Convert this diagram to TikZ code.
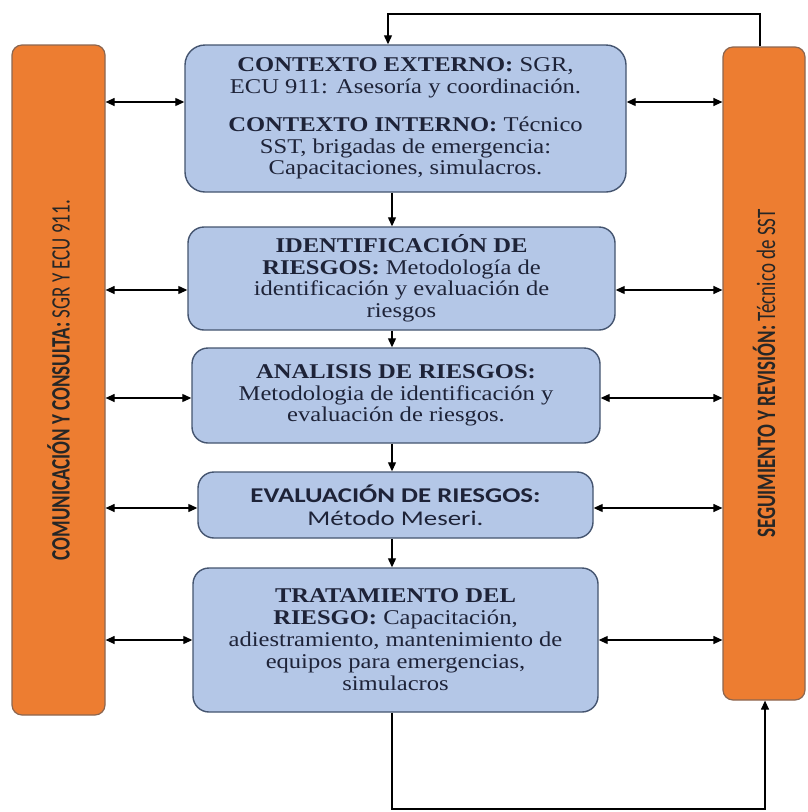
\documentclass[tikz,border=0pt]{standalone}
\usepackage{fontspec}
\setmainfont{Liberation Serif}
\newfontfamily\serifbox{Liberation Serif}[FakeStretch=1.17]
\newfontfamily\sansbox{Carlito}[FakeStretch=1.28]
\newfontfamily\barfont{Carlito}
\usetikzlibrary{arrows.meta, positioning, calc}
\definecolor{barorange}{HTML}{ED7D31}
\definecolor{barline}{HTML}{8C6650}
\definecolor{boxblue}{HTML}{B4C7E7}
\definecolor{boxline}{HTML}{44546F}
\definecolor{boxtext}{HTML}{1E2338}

\begin{document}
\begin{tikzpicture}[x=1pt, y=-1pt,
  stage/.style={draw=boxline, line width=1.4pt, fill=boxblue, rounded corners=16pt, align=center, text=boxtext,
    inner sep=0pt, font=\serifbox\fontsize{21}{21.5}\selectfont},
  sidebar/.style={draw=barline, line width=1.2pt, fill=barorange, rounded corners=10pt, inner sep=0pt,
    text=black!85, font=\barfont\fontsize{19}{19}\selectfont},
  arr/.style={-{Triangle[length=9pt, width=8pt]}, line width=1.2pt},
  dbl/.style={{Triangle[length=9pt, width=8pt]}-{Triangle[length=9pt, width=8pt]}, line width=1.2pt}]
\useasboundingbox (0,0) rectangle (807,812);
\node[sidebar, minimum width=93pt, minimum height=670pt] (lb) at (58.5,380)
  {\rotatebox{90}{\scalebox{1}[1.4]{\textbf{COMUNICACIÓN Y CONSULTA:} SGR Y ECU 911.}}};
\node[sidebar, minimum width=82pt, minimum height=653pt] (rb) at (764,373.5)
  {\rotatebox{90}{\scalebox{1}[1.4]{\textbf{SEGUIMIENTO Y REVISIÓN:} Técnico de SST}}};
\node[stage, rounded corners=20pt, minimum width=441pt, minimum height=147pt] (b1) at (405.5,118.5)
  {\textbf{CONTEXTO EXTERNO:} SGR,\\ ECU 911: Asesoría y coordinación.\\[17pt]
   \textbf{CONTEXTO INTERNO:} Técnico\\ SST, brigadas de emergencia:\\ Capacitaciones, simulacros.};
\node[stage, minimum width=427pt, minimum height=103pt] (b2) at (401.5,278.5)
  {\textbf{IDENTIFICACIÓN DE}\\ \textbf{RIESGOS:} Metodología de\\ identificación y evaluación de\\ riesgos};
\node[stage, minimum width=408pt, minimum height=95pt] (b3) at (396,395.5)
  {\textbf{ANALISIS DE RIESGOS:}\\ Metodologia de identificación y\\ evaluación de riesgos.};
\node[stage, minimum width=395pt, minimum height=66pt, font=\sansbox\fontsize{21}{23}\selectfont] (b4) at (395.5,505)
  {\textbf{EVALUACIÓN DE RIESGOS:}\\ Método Meseri.};
\node[stage, minimum width=405pt, minimum height=144pt, font=\serifbox\fontsize{21}{22}\selectfont] (b5) at (395.5,640)
  {\textbf{TRATAMIENTO DEL}\\ \textbf{RIESGO:} Capacitación,\\ adiestramiento, mantenimiento de\\ equipos para emergencias,\\ simulacros};
\coordinate (dx) at (392,0);
\coordinate (tx) at (388,0);
\coordinate (rx) at (760,0);
\coordinate (bx) at (765,0);
\coordinate (topy) at (0,14);
\coordinate (boty) at (0,809);
\foreach \a/\b in {b1/b2, b2/b3, b3/b4, b4/b5}
  \draw[arr] (\a.south -| dx) -- (\b.north -| dx);
\foreach \b/\y in {b1/102, b2/290, b3/398, b4/508, b5/640} {
  \draw[dbl] (lb.east |- 0,\y) -- (\b.west |- 0,\y);
  \draw[dbl] (\b.east |- 0,\y) -- (rb.west |- 0,\y);
}
\draw[arr] (rb.north -| rx) -- (rx |- topy) -| (b1.north -| tx);
\draw[arr] (b5.south -| dx) -- (dx |- boty) -| (rb.south -| bx);
\end{tikzpicture}
\end{document}
